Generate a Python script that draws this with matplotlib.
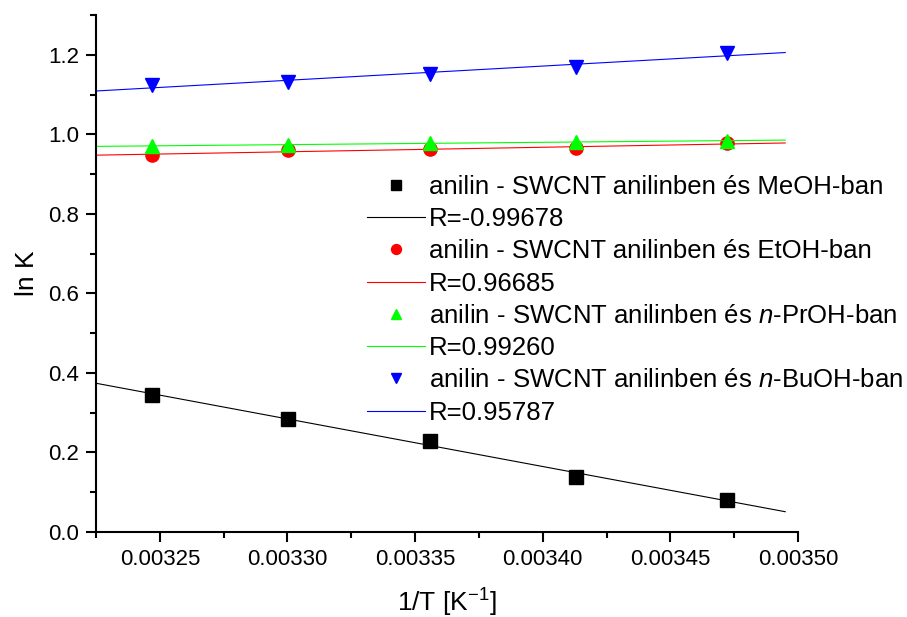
import numpy as np
import matplotlib
matplotlib.use('Agg')
import matplotlib.pyplot as plt
from matplotlib.ticker import MultipleLocator, FormatStrFormatter

# 1/T values (K^-1) for 308, 303, 298, 293, 288 K
invT = [0.0032468, 0.0033003, 0.0033557, 0.0034130, 0.0034722]

lnK_meoh = [0.345, 0.284, 0.229, 0.138, 0.081]
lnK_etoh = [0.948, 0.960, 0.962, 0.966, 0.977]
lnK_proh = [0.971, 0.974, 0.977, 0.981, 0.984]
lnK_buoh = [1.124, 1.131, 1.152, 1.170, 1.205]

labels = ['anilin - SWCNT anilinben és MeOH-ban',
          'anilin - SWCNT anilinben és EtOH-ban',
          'anilin - SWCNT anilinben és $\\mathit{n}$-PrOH-ban',
          'anilin - SWCNT anilinben és $\\mathit{n}$-BuOH-ban']
r_labels = ['R=-0.99678', 'R=0.96685', 'R=0.99260', 'R=0.95787']
colors = ['#000000', '#ff0000', '#00ff00', '#0000ff']
markers = ['s', 'o', '^', 'v']

plt.rcParams['font.family'] = ['Liberation Sans', 'DejaVu Sans']
plt.rcParams['mathtext.fontset'] = 'custom'
plt.rcParams['mathtext.it'] = 'Liberation Sans:italic'
plt.rcParams['mathtext.rm'] = 'Liberation Sans'

fig = plt.figure(figsize=(9.07, 6.17), dpi=100)
ax = fig.add_axes([96/907, 1 - 532/617, (798 - 96)/907, (532 - 15)/617])

xfit = np.array([0.003225, 0.003495])
series = [lnK_meoh, lnK_etoh, lnK_proh, lnK_buoh]
for y, lab, rl, c, m in zip(series, labels, r_labels, colors, markers):
    ax.plot(invT, y, linestyle='none', marker=m, color=c, markersize=9.5, label=lab)
    k, b = np.polyfit(invT, y, 1)
    ax.plot(xfit, k * xfit + b, color=c, linewidth=0.8, label=rl)

ax.set_xlim(0.003225, 0.0035)
ax.set_ylim(0.0, 1.3)
ax.xaxis.set_major_locator(MultipleLocator(0.00005))
ax.xaxis.set_minor_locator(MultipleLocator(0.000025))
ax.xaxis.set_major_formatter(FormatStrFormatter('%.5f'))
ax.yaxis.set_major_locator(MultipleLocator(0.2))
ax.yaxis.set_minor_locator(MultipleLocator(0.1))
ax.yaxis.set_major_formatter(FormatStrFormatter('%.1f'))

for s in ['top', 'right']:
    ax.spines[s].set_visible(False)
for s in ['left', 'bottom']:
    ax.spines[s].set_linewidth(1.5)
ax.tick_params(which='major', direction='out', length=7, width=1.5, labelsize=16, pad=5)
ax.tick_params(which='minor', direction='out', length=4, width=1.5)

ax.set_xlabel('1/T [K$^{-1}$]', fontsize=19, labelpad=12)
ax.set_ylabel('ln K', fontsize=19, labelpad=7)

leg = ax.legend(loc='upper left', bbox_to_anchor=(367/907, 1 - 175/617),
                bbox_transform=fig.transFigure, frameon=False, fontsize=18.5,
                labelspacing=0.32, handlelength=2.27, handletextpad=0.15,
                borderpad=0, borderaxespad=0, markerscale=0.75)

fig.savefig('out.png', dpi=100)
